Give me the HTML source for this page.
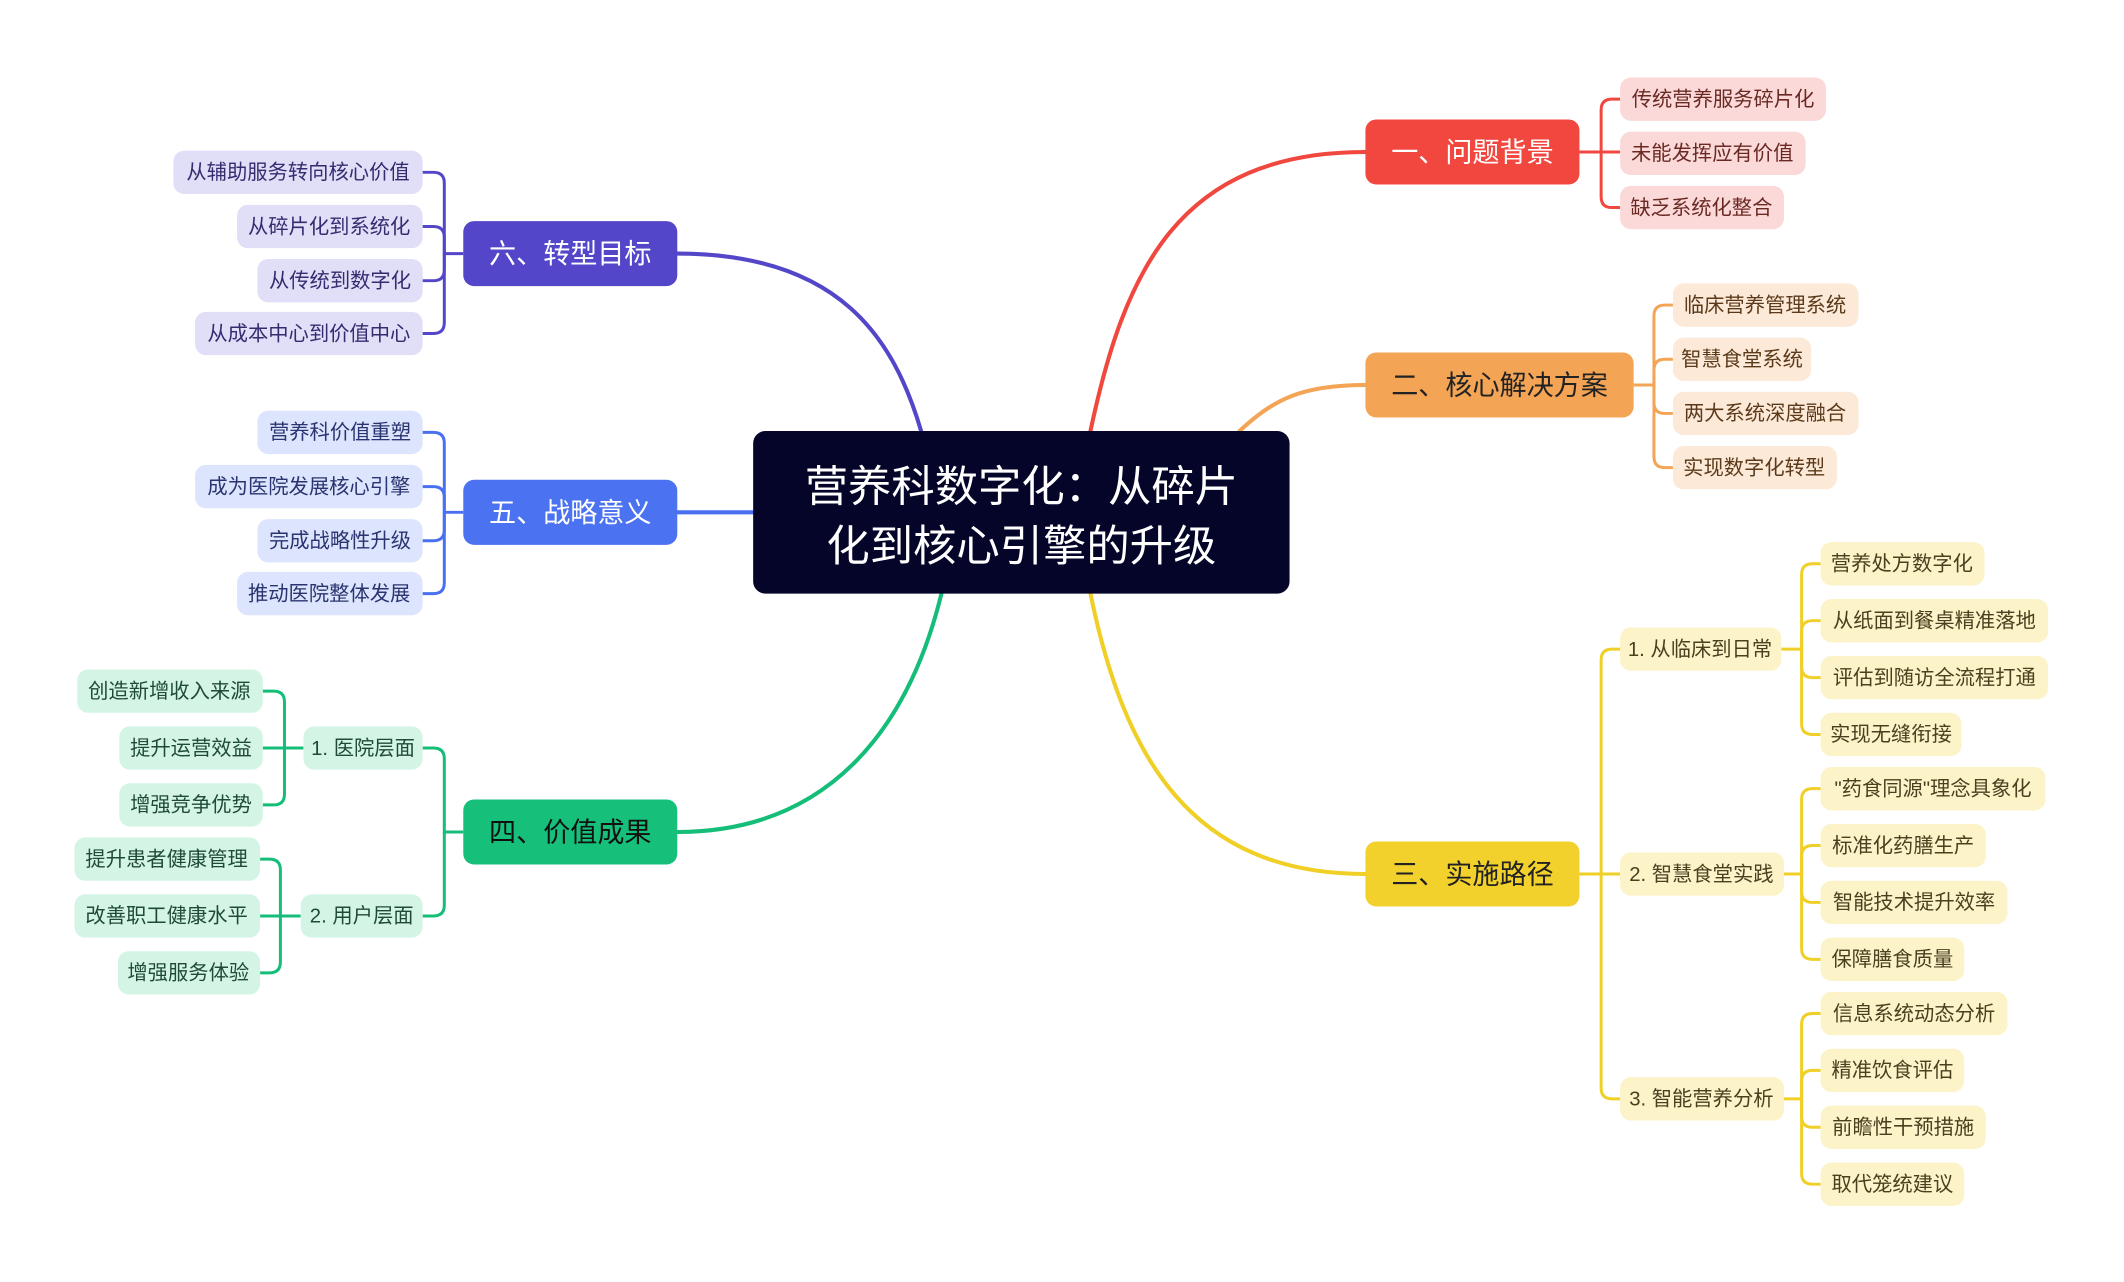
<!DOCTYPE html>
<html><head><meta charset="utf-8"><style>
html,body{margin:0;padding:0;background:#fff;width:2124px;height:1282px;overflow:hidden}
svg text{font-family:"Liberation Sans","Noto Sans CJK SC",sans-serif}
</style></head><body>
<svg width="2124" height="1282" viewBox="0 0 1568 946" xmlns="http://www.w3.org/2000/svg">
<rect width="1568" height="946" fill="#fff"/>
<g fill="none" stroke-width="3" stroke-linecap="round">
<path d="M805 318 C830 200 870 112 1008 112" stroke="#f0473f"/>
<path d="M915 318 C940 295 960 284 1008 284" stroke="#f4a455"/>
<path d="M805 438 C830 560 880 645 1008 645" stroke="#f0cf26"/>
<path d="M695 438 C670 540 610 614 500 614" stroke="#14bd78"/>
<path d="M680 318 C660 250 620 187 500 187" stroke="#5346c8"/>
<path d="M500 378 H556" stroke="#4a70f0"/>
</g>
<g fill="none" stroke-width="2.2">
<g stroke="#f0473f">
<path d="M1166 112 H1182 V81 Q1182 73 1190 73 H1196"/><path d="M1182 112 H1196"/><path d="M1182 112 V145 Q1182 153 1190 153 H1196"/></g>
<g stroke="#f4a455">
<path d="M1206 284 H1221 V233 Q1221 225 1229 225 H1235"/><path d="M1221 284 V273 Q1221 265 1229 265 H1235"/><path d="M1221 284 V297 Q1221 305 1229 305 H1235"/><path d="M1221 284 V337 Q1221 345 1229 345 H1235"/></g>
<g stroke="#f0cf26">
<path d="M1166 645 H1182 V487 Q1182 479 1190 479 H1196"/><path d="M1182 645 H1196"/><path d="M1182 645 V803 Q1182 811 1190 811 H1196"/>
<path d="M1315 479 H1330 V424 Q1330 416 1338 416 H1344"/><path d="M1330 479 V466 Q1330 458 1338 458 H1344"/><path d="M1330 479 V492 Q1330 500 1338 500 H1344"/><path d="M1330 479 V534 Q1330 542 1338 542 H1344"/>
<path d="M1317 645 H1330 V590 Q1330 582 1338 582 H1344"/><path d="M1330 645 V632 Q1330 624 1338 624 H1344"/><path d="M1330 645 V658 Q1330 666 1338 666 H1344"/><path d="M1330 645 V700 Q1330 708 1338 708 H1344"/>
<path d="M1317 811 H1330 V756 Q1330 748 1338 748 H1344"/><path d="M1330 811 V798 Q1330 790 1338 790 H1344"/><path d="M1330 811 V824 Q1330 832 1338 832 H1344"/><path d="M1330 811 V866 Q1330 874 1338 874 H1344"/></g>
<g stroke="#14bd78">
<path d="M342 614 H328 V560 Q328 552 320 552 H312"/><path d="M328 614 V668 Q328 676 320 676 H312"/>
<path d="M224 552 H210 V518 Q210 510 202 510 H194"/><path d="M210 552 H194"/><path d="M210 552 V586 Q210 594 202 594 H194"/>
<path d="M222 676 H207 V642 Q207 634 199 634 H192"/><path d="M207 676 H192"/><path d="M207 676 V710 Q207 718 199 718 H192"/></g>
<g stroke="#4a70f0">
<path d="M342 378 H328 V327 Q328 319 320 319 H312"/><path d="M328 378 V367 Q328 359 320 359 H312"/><path d="M328 378 V391 Q328 399 320 399 H312"/><path d="M328 378 V430 Q328 438 320 438 H312"/></g>
<g stroke="#5346c8">
<path d="M342 187 H328 V135 Q328 127 320 127 H312"/><path d="M328 187 V175 Q328 167 320 167 H312"/><path d="M328 187 V199 Q328 207 320 207 H312"/><path d="M328 187 V238 Q328 246 320 246 H312"/></g>
</g>
<rect x="556" y="318" width="396" height="120" rx="9" fill="#05052a"/>
<text x="754" y="370" font-size="32" fill="#fff" text-anchor="middle">营养科数字化：从碎片</text>
<text x="754" y="414" font-size="32" fill="#fff" text-anchor="middle">化到核心引擎的升级</text>
<g font-size="20" text-anchor="middle">
<rect x="1008" y="88" width="158" height="48" rx="8" fill="#f2473f"/><text x="1087" y="119" fill="#fff">一、问题背景</text>
<rect x="1008" y="260" width="198" height="48" rx="8" fill="#f4a455"/><text x="1107" y="291" fill="#222">二、核心解决方案</text>
<rect x="1008" y="621" width="158" height="48" rx="8" fill="#f2d12c"/><text x="1087" y="652" fill="#222">三、实施路径</text>
<rect x="342" y="590" width="158" height="48" rx="8" fill="#16c07a"/><text x="421" y="621" fill="#111">四、价值成果</text>
<rect x="342" y="354" width="158" height="48" rx="8" fill="#4b72f0"/><text x="421" y="385" fill="#fff">五、战略意义</text>
<rect x="342" y="163" width="158" height="48" rx="8" fill="#5346c8"/><text x="421" y="194" fill="#fff">六、转型目标</text>
</g>
<g font-size="15" text-anchor="middle">
<g fill="#fcd9d9"><rect x="1196" y="57" width="152" height="32" rx="8"/><rect x="1196" y="97" width="137" height="32" rx="8"/><rect x="1196" y="137" width="121" height="32" rx="8"/></g>
<g fill="#6a2a24"><text x="1272" y="78">传统营养服务碎片化</text><text x="1264" y="118">未能发挥应有价值</text><text x="1256" y="158">缺乏系统化整合</text></g>
<g fill="#fde9d8"><rect x="1235" y="209" width="137" height="32" rx="8"/><rect x="1235" y="249" width="102" height="32" rx="8"/><rect x="1235" y="289" width="137" height="32" rx="8"/><rect x="1235" y="329" width="121" height="32" rx="8"/></g>
<g fill="#5a3a1a"><text x="1303" y="230">临床营养管理系统</text><text x="1286" y="270">智慧食堂系统</text><text x="1303" y="310">两大系统深度融合</text><text x="1295" y="350">实现数字化转型</text></g>
<g fill="#fdf3c8">
<rect x="1196" y="463" width="119" height="32" rx="8"/><rect x="1196" y="629" width="121" height="32" rx="8"/><rect x="1196" y="795" width="121" height="32" rx="8"/>
<rect x="1344" y="400" width="121" height="32" rx="8"/><rect x="1344" y="442" width="168" height="32" rx="8"/><rect x="1344" y="484" width="168" height="32" rx="8"/><rect x="1344" y="526" width="104" height="32" rx="8"/>
<rect x="1344" y="566" width="166" height="32" rx="8"/><rect x="1344" y="608" width="122" height="32" rx="8"/><rect x="1344" y="650" width="138" height="32" rx="8"/><rect x="1344" y="692" width="106" height="32" rx="8"/>
<rect x="1344" y="732" width="138" height="32" rx="8"/><rect x="1344" y="774" width="106" height="32" rx="8"/><rect x="1344" y="816" width="122" height="32" rx="8"/><rect x="1344" y="858" width="106" height="32" rx="8"/></g>
<g fill="#4a4020">
<text x="1255" y="484">1. 从临床到日常</text><text x="1256" y="650">2. 智慧食堂实践</text><text x="1256" y="816">3. 智能营养分析</text>
<text x="1404" y="421">营养处方数字化</text><text x="1428" y="463">从纸面到餐桌精准落地</text><text x="1428" y="505">评估到随访全流程打通</text><text x="1396" y="547">实现无缝衔接</text>
<text x="1427" y="587">"药食同源"理念具象化</text><text x="1405" y="629">标准化药膳生产</text><text x="1413" y="671">智能技术提升效率</text><text x="1397" y="713">保障膳食质量</text>
<text x="1413" y="753">信息系统动态分析</text><text x="1397" y="795">精准饮食评估</text><text x="1405" y="837">前瞻性干预措施</text><text x="1397" y="879">取代笼统建议</text></g>
<g fill="#d4f5e6">
<rect x="224" y="536" width="88" height="32" rx="8"/><rect x="222" y="660" width="90" height="32" rx="8"/>
<rect x="57" y="494" width="137" height="32" rx="8"/><rect x="88" y="536" width="106" height="32" rx="8"/><rect x="88" y="578" width="106" height="32" rx="8"/>
<rect x="55" y="618" width="137" height="32" rx="8"/><rect x="55" y="660" width="137" height="32" rx="8"/><rect x="87" y="702" width="105" height="32" rx="8"/></g>
<g fill="#1f4a36">
<text x="268" y="557">1. 医院层面</text><text x="267" y="681">2. 用户层面</text>
<text x="125" y="515">创造新增收入来源</text><text x="141" y="557">提升运营效益</text><text x="141" y="599">增强竞争优势</text>
<text x="123" y="639">提升患者健康管理</text><text x="123" y="681">改善职工健康水平</text><text x="139" y="723">增强服务体验</text></g>
<g fill="#dde4fd"><rect x="190" y="303" width="122" height="32" rx="8"/><rect x="144" y="343" width="168" height="32" rx="8"/><rect x="190" y="383" width="122" height="32" rx="8"/><rect x="175" y="422" width="137" height="32" rx="8"/></g>
<g fill="#2a3470"><text x="251" y="324">营养科价值重塑</text><text x="228" y="364">成为医院发展核心引擎</text><text x="251" y="404">完成战略性升级</text><text x="243" y="443">推动医院整体发展</text></g>
<g fill="#e1def8"><rect x="128" y="111" width="184" height="32" rx="8"/><rect x="175" y="151" width="137" height="32" rx="8"/><rect x="190" y="191" width="122" height="32" rx="8"/><rect x="144" y="230" width="168" height="32" rx="8"/></g>
<g fill="#352c70"><text x="220" y="132">从辅助服务转向核心价值</text><text x="243" y="172">从碎片化到系统化</text><text x="251" y="212">从传统到数字化</text><text x="228" y="251">从成本中心到价值中心</text></g>
</g>
</svg>
</body></html>
